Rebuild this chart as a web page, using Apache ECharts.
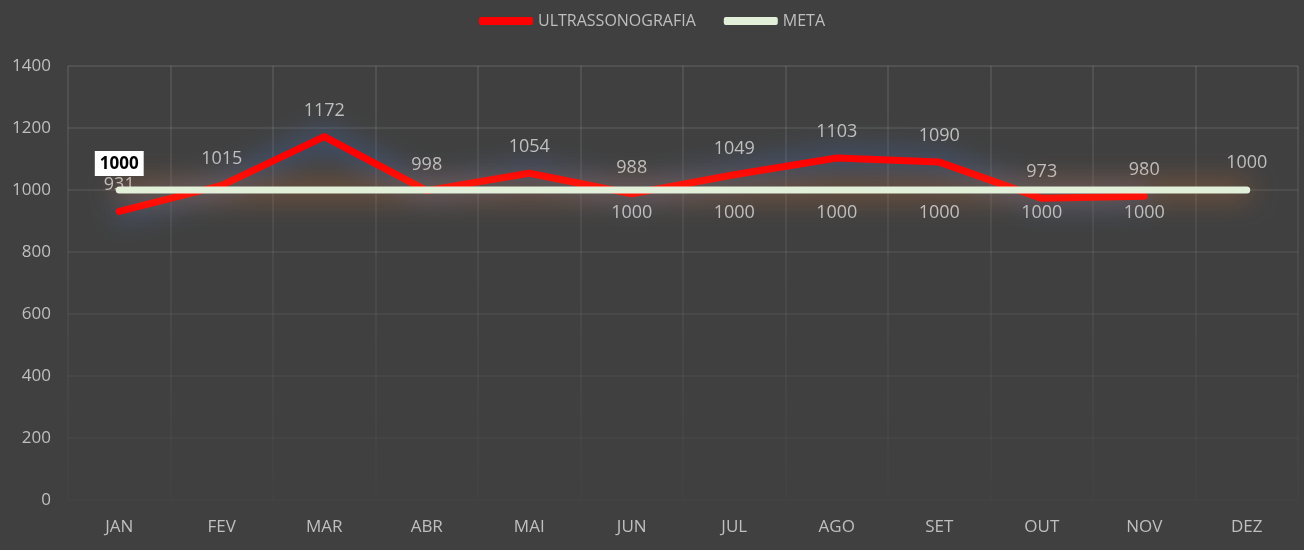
<!DOCTYPE html>
<html>
<head>
<meta charset="utf-8">
<script src="https://cdn.jsdelivr.net/npm/echarts@6/dist/echarts.min.js"></script>
<style>
  html, body { margin: 0; padding: 0; background: #404040; }
  #chart { width: 1304px; height: 550px; }
</style>
</head>
<body>
<div id="chart"></div>
<script>
// dados do gráfico
const MONTHS = ['JAN', 'FEV', 'MAR', 'ABR', 'MAI', 'JUN', 'JUL', 'AGO', 'SET', 'OUT', 'NOV', 'DEZ'];
const ULTRA = [931, 1015, 1172, 998, 1054, 988, 1049, 1103, 1090, 973, 980, null];
const META = [1000, 1000, 1000, 1000, 1000, 1000, 1000, 1000, 1000, 1000, 1000, 1000];
// posição do rótulo da meta em cada mês ('' = sem rótulo)
const META_LABEL_POS = ['box', '', '', '', '', 'below', 'below', 'below', 'below', 'below', 'below', 'above'];

const TEXT_COLOR = '#bfbfbf';
const FONT = 'Open Sans, Noto Sans, sans-serif';

const chart = echarts.init(document.getElementById('chart'));

// linhas de grade que somem em direção à base
const gridColor = new echarts.graphic.LinearGradient(0, 66, 0, 500, [
    { offset: 0, color: 'rgba(255,255,255,0.12)' },
    { offset: 1, color: 'rgba(255,255,255,0.01)' }
], true);

// montar pontos da meta com rótulos individuais
const metaData = META.map(function (v, i) {
    const pos = META_LABEL_POS[i];
    if (pos === 'box') {
        return {
            value: v,
            label: {
                show: true, position: 'top', distance: 14,
                color: '#000', fontWeight: 'bold', fontSize: 17,
                backgroundColor: '#ffffff', padding: [5, 5, 3, 5]
            }
        };
    }
    if (pos === 'below') {
        return { value: v, label: { show: true, position: 'bottom', distance: 14 } };
    }
    if (pos === 'above') {
        return { value: v, label: { show: true, position: 'top', distance: 18 } };
    }
    return { value: v, label: { show: false } };
});

const option = {
    backgroundColor: '#404040',
    textStyle: { fontFamily: FONT },
    legend: {
        top: 8,
        left: 'center',
        itemWidth: 54,
        itemHeight: 8,
        itemGap: 28,
        textStyle: { color: TEXT_COLOR, fontSize: 16, fontFamily: FONT },
        data: [
            { name: 'ULTRASSONOGRAFIA', icon: 'roundRect', itemStyle: { color: '#ff0000' } },
            { name: 'META', icon: 'roundRect', itemStyle: { color: '#e2f0d9' } }
        ]
    },
    grid: { left: 68, right: 6, top: 66, bottom: 50 },
    xAxis: {
        type: 'category',
        data: MONTHS,
        boundaryGap: true,
        axisLine: { show: false },
        axisTick: { show: false },
        axisLabel: { color: TEXT_COLOR, fontSize: 17, margin: 19 },
        splitLine: { show: true, lineStyle: { color: gridColor, width: 1.5 } }
    },
    yAxis: {
        type: 'value',
        min: 0,
        max: 1400,
        interval: 200,
        axisLine: { show: false },
        axisTick: { show: false },
        axisLabel: {
            color: TEXT_COLOR, fontSize: 17, margin: 17,
            formatter: function (v) { return String(v); }
        },
        splitLine: { lineStyle: { color: gridColor, width: 1.5 } }
    },
    series: [
        {
            name: 'ULTRASSONOGRAFIA',
            type: 'line',
            data: ULTRA,
            symbol: 'circle',
            symbolSize: 0.1,
            showAllSymbol: true,
            z: 3,
            lineStyle: {
                color: '#ff0000', width: 7, cap: 'round', join: 'round',
                shadowColor: 'rgba(68,114,196,1)', shadowBlur: 28
            },
            itemStyle: { color: '#ff0000' },
            label: {
                show: true, position: 'top', distance: 17,
                color: TEXT_COLOR, fontSize: 18
            }
        },
        {
            name: 'META',
            type: 'line',
            data: metaData,
            symbol: 'circle',
            symbolSize: 0.1,
            showAllSymbol: true,
            z: 4,
            lineStyle: {
                color: '#e2f0d9', width: 7, cap: 'round',
                shadowColor: 'rgba(237,125,49,0.85)', shadowBlur: 28
            },
            itemStyle: { color: '#e2f0d9' },
            label: { color: TEXT_COLOR, fontSize: 18 }
        }
    ]
};

chart.setOption(option);
</script>
</body>
</html>
